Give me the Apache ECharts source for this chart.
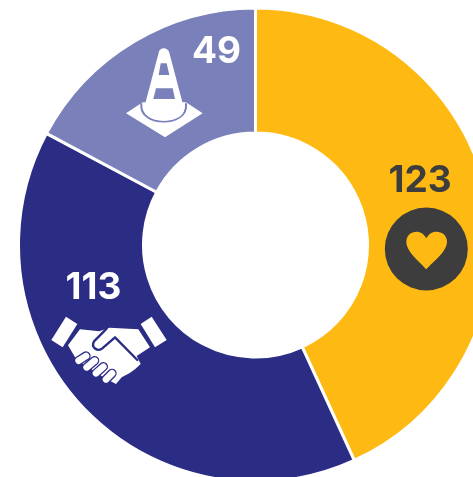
<!DOCTYPE html>
<html><head><meta charset="utf-8">
<style>html,body{margin:0;padding:0;background:#fff}#c{width:473px;height:477px}</style>
<script src="https://cdn.jsdelivr.net/npm/echarts@6/dist/echarts.min.js"></script>
</head><body><div id="c"></div>
<script>
const categories = ['heart', 'handshake', 'cone'];
const values = [123, 113, 49];
const colors = ['#FFB913', '#2B2D85', '#7A80BA'];
const labelColors = ['#3D3D3D', '#FFFFFF', '#FFFFFF'];
const labelPos = [[420, 180.5], [93.5, 288], [216.5, 52]];
const FONT = '700 37px Inter, Roboto, sans-serif';

const WHITE = '#fff', NAVY = colors[1], PERI = colors[2], GOLD = colors[0], DARK = labelColors[0];
let shapeId = 0;
function raw(x, y, d, fill, stroke, w) {
  const name = 'iconShape' + (shapeId++);
  echarts.graphic.registerShape(name, echarts.graphic.extendPath(d, {}));
  return {type:name, x, y, scaleX:1/3, scaleY:1/3, silent:true,
    style:{fill:fill||'none', stroke:stroke||'none', lineWidth:w||0, lineCap:'round', lineJoin:'round'}};
}
const graphics = [];
values.forEach((v, i) => graphics.push({type:'text', x:labelPos[i][0], y:labelPos[i][1], silent:true, z:10,
  style:{text:String(v), fill:labelColors[i], font:FONT, textAlign:'center', textVerticalAlign:'middle'}}));
// heart badge
graphics.push({type:'circle', shape:{cx:426.3, cy:249, r:41.5}, style:{fill:DARK}, silent:true, z:5});
graphics.push(Object.assign(raw(373,150,'M160 358 C140 335 100 305 100 275 C100 255 115 245 130 245 C143 245 154 253 160 265 C166 253 177 245 190 245 C207 245 222 255 222 275 C222 305 180 335 160 358 Z', GOLD), {z:6}));
// cone
const CX=120, CY=0;
graphics.push(Object.assign(raw(CX,CY,'M18 340 L68 307 L198 307 L248 340 L135 412 Z', WHITE), {z:5}));
graphics.push(Object.assign(raw(CX,CY,'M64 312 C56 382 206 382 198 312', 'none', PERI, 6), {z:6}));
graphics.push(Object.assign(raw(CX,CY,'M116 158 C118 140 144 140 148 158 L192 325 C196 375 68 375 72 325 Z', WHITE), {z:7}));
graphics.push(Object.assign(raw(CX,CY,'M122 190 L140 190 L148 225 L116 225 Z', PERI), {z:8}));
graphics.push(Object.assign(raw(CX,CY,'M108 265 L158 265 L165 297 L100 297 Z', PERI), {z:8}));
// handshake
const HX=40, HY=260;
graphics.push(Object.assign(raw(HX,HY,'M78 170 L112 192 L68 262 L34 240 Z', WHITE), {z:5}));
graphics.push(Object.assign(raw(HX,HY,'M335 170 L380 240 L345 262 L302 192 Z', WHITE), {z:5}));
graphics.push(Object.assign(raw(HX,HY,'M120 208 L178 214 L208 203 L295 208 L330 262 L290 288 L302 312 L285 328 L268 340 L245 352 L228 372 L205 360 L180 345 L150 325 L110 300 L84 256 Z', WHITE), {z:5}));
graphics.push(Object.assign(raw(HX,HY,'M292 300 L225 232 L186 266 C172 276 152 262 162 244 L200 206', 'none', NAVY, 7), {z:6}));
[[[116,302],[138,288]],[[140,322],[164,302]],[[168,340],[190,320]],[[198,358],[216,340]]].forEach(p => {
  const d = `M${p[0][0]} ${p[0][1]} L${p[1][0]} ${p[1][1]}`;
  graphics.push(Object.assign(raw(HX,HY,d, 'none', NAVY, 28), {z:6}));
  graphics.push(Object.assign(raw(HX,HY,d, 'none', WHITE, 20), {z:7}));
});

const chart = echarts.init(document.getElementById('c'), null, {renderer:'canvas'});
chart.setOption({
  animation:false,
  graphic:{elements:graphics},
  series:[{type:'pie', center:[255.5,245], radius:[112,237], startAngle:90, clockwise:true,
    label:{show:false}, labelLine:{show:false}, silent:true,
    itemStyle:{borderColor:'#fff', borderWidth:3},
    data:categories.map((c,i)=>({name:c, value:values[i], itemStyle:{color:colors[i]}}))}]
});
</script></body></html>
